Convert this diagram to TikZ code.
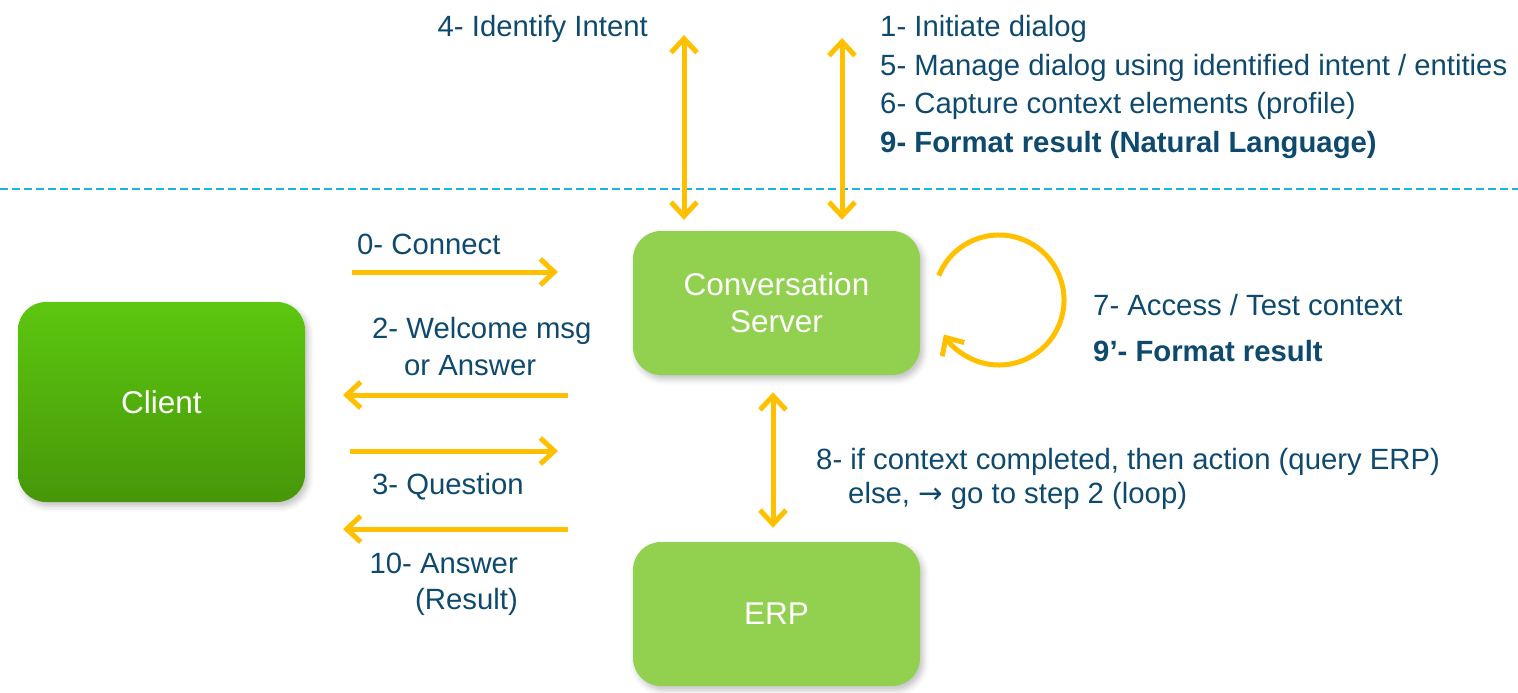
\documentclass[tikz,border=0pt]{standalone}
\usepackage{fontspec}
\setmainfont{Liberation Sans}
\newfontfamily\arrowfont{DejaVu Sans}
\usetikzlibrary{arrows.meta,shadows.blur}
\definecolor{arrowgold}{HTML}{FFC000}
\definecolor{boxgreen}{HTML}{92D050}
\definecolor{labelblue}{HTML}{0E4A6E}
\definecolor{sepblue}{HTML}{1DB0E8}
\definecolor{clienttop}{HTML}{5CC70F}
\definecolor{clientbottom}{HTML}{479709}
\begin{document}
\begin{tikzpicture}[x=1pt,y=1pt,
	box/.style={rounded corners=28pt, minimum width=287pt, inner sep=0pt, text=white, align=center,
		font=\fontsize{31.5}{37}\selectfont,
		blur shadow={shadow xshift=3pt, shadow yshift=-4pt, shadow blur radius=6pt, shadow opacity=25}},
	lbl/.style={text=labelblue, inner sep=0pt, font=\fontsize{29.3}{38}\selectfont},
	flow/.style={draw=arrowgold, line width=5pt, -{Straight Barb[length=14pt,width=26pt]}},
	flowboth/.style={flow, {Straight Barb[length=14pt,width=26pt]}-{Straight Barb[length=14pt,width=26pt]}}]
	\useasboundingbox (0,0) rectangle (1518,-693);
	\draw[sepblue, line width=2pt, dash pattern=on 8pt off 4pt] (0,-189) -- (1518,-189);
	% boxes
	\node[box, top color=clienttop, bottom color=clientbottom, minimum height=200pt] (client) at (161.5,-402) {Client};
	\node[box, fill=boxgreen, minimum height=144pt] (server) at (776.5,-303) {Conversation\\Server};
	\node[box, fill=boxgreen, minimum height=144pt] (erp) at (776.5,-614) {ERP};
	% labels
	\node[lbl, anchor=east] (intentlbl) at (648,-29) {4- Identify Intent};
	\node[lbl, anchor=west, align=left, font=\fontsize{29.3}{38.7}\selectfont] (dialoglbl) at (880,-87)
		{1- Initiate dialog\\5- Manage dialog using identified intent / entities\\6- Capture context elements (profile)\\\textbf{9- Format result (Natural Language)}};
	\node[lbl, anchor=west] (connectlbl) at (357,-244) {0- Connect};
	\node[lbl, anchor=west] (welcomelbl) at (372,-331) {2- Welcome msg};
	\node[lbl, anchor=west] (orlbl) at (404,-366) {or Answer};
	\node[lbl, anchor=west] (questionlbl) at (372,-487) {3- Question};
	\node[lbl, anchor=east, align=right, font=\fontsize{29.3}{36}\selectfont] (answerlbl) at (518,-584) {10- Answer\\(Result)};
	\node[lbl, anchor=west, align=left, font=\fontsize{29.3}{46}\selectfont] (contextlbl) at (1093,-328) {7- Access / Test context\\\textbf{9'- Format result}};
	\node[lbl, anchor=west] (actionlbl) at (816,-462) {8- if context completed, then action (query ERP)};
	\node[lbl, anchor=west] (looplbl) at (848,-496) {else, {\arrowfont →} go to step 2 (loop)};
	% free ends
	\coordinate (intenttip) at (684,-35);
	\coordinate (dialogtip) at (842,-38);
	\coordinate (connect-l) at (352,-272);
	\coordinate (connect-r) at (558,-272);
	\coordinate (welcome-l) at (343,-395);
	\coordinate (welcome-r) at (568,-395);
	\coordinate (question-l) at (350,-451);
	\coordinate (question-r) at (558,-451);
	\coordinate (answer-l) at (343,-529);
	\coordinate (answer-r) at (568,-529);
	\coordinate (loopc) at (999,-300);
	% arrows
	\draw[flowboth] (intenttip) -- ([yshift=11pt]intenttip |- server.north);
	\draw[flowboth] (dialogtip) -- ([yshift=11pt]dialogtip |- server.north);
	\draw[flowboth] ([xshift=-3.5pt,yshift=-17pt]server.south) -- ([xshift=-3.5pt,yshift=14pt]erp.north);
	\draw[flow] (connect-l) -- (connect-r);
	\draw[flow] (welcome-r) -- (welcome-l);
	\draw[flow] (question-l) -- (question-r);
	\draw[flow] (answer-r) -- (answer-l);
	\draw[flow] ([shift={(158:65)}]loopc) arc[start angle=158, end angle=-148, radius=65];
\end{tikzpicture}
\end{document}
